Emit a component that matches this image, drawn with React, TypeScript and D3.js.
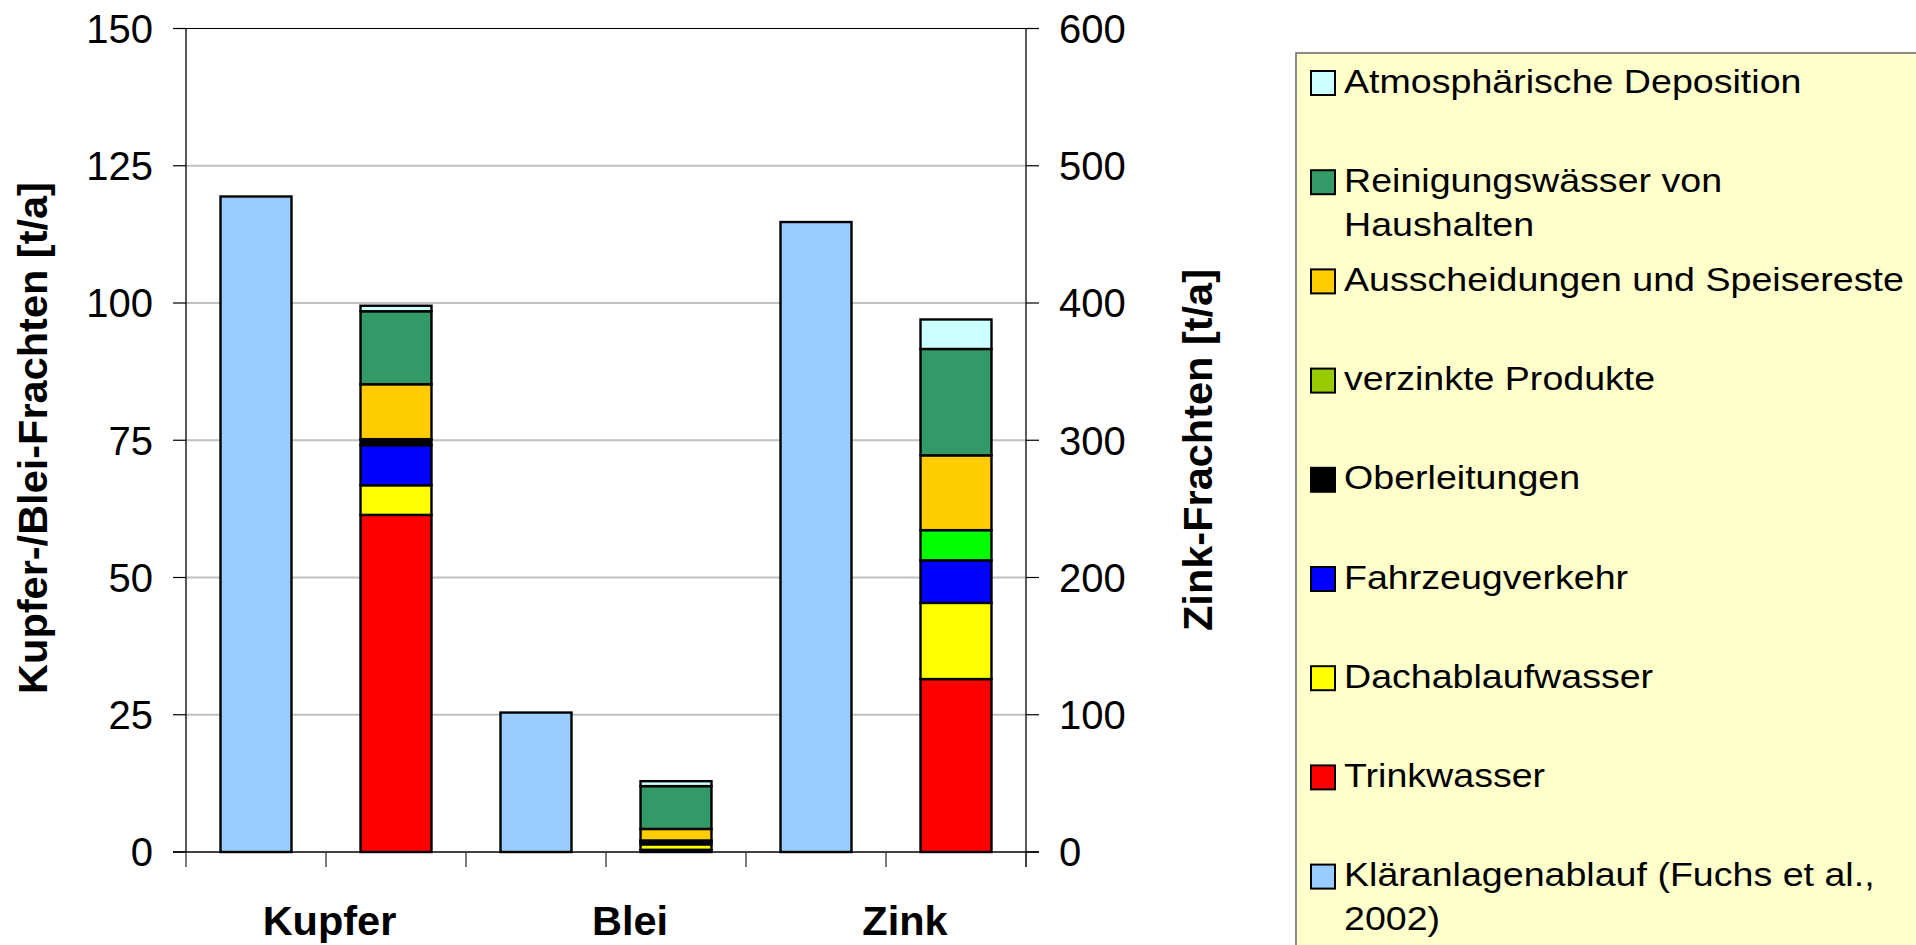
import React from 'react';
import * as d3 from 'd3';

// ---------- data ----------
const categories = ['Kupfer', 'Blei', 'Zink'];
const klaeranlage = [119.4, 25.4, 459];
const trinkwasser = [61.4, 0.4, 126];
const dachablaufwasser = [5.4, 1.0, 55.5];
const fahrzeugverkehr = [7.3, 0.5, 31];
const oberleitungen = [1.1, 0.2, 0];
const verzinkteProdukte = [0, 0, 22];
const ausscheidungen = [10.0, 2.1, 54.5];
const reinigungswaesser = [13.3, 7.8, 77.5];
const atmosphaerisch = [1.0, 0.9, 21.5];

const leftTicks = [0, 25, 50, 75, 100, 125, 150];
const rightTicks = [0, 100, 200, 300, 400, 500, 600];

const stackKeys = ['Trinkwasser', 'Dachablaufwasser', 'Fahrzeugverkehr', 'Oberleitungen', 'verzinkte Produkte', 'Ausscheidungen und Speisereste', 'Reinigungswässer von Haushalten', 'Atmosphärische Deposition'];
const stackValues = [trinkwasser, dachablaufwasser, fahrzeugverkehr, oberleitungen, verzinkteProdukte, ausscheidungen, reinigungswaesser, atmosphaerisch];
const stackColors = ['#FF0000', '#FFFF00', '#0000FF', '#000000', '#00FF00', '#FFCC00', '#339966', '#CCFFFF'];
const klaerColor = '#99CCFF';

const legendItems = [
  { lines: ['Atmosphärische Deposition'], color: '#CCFFFF' },
  { lines: ['Reinigungswässer von', 'Haushalten'], color: '#339966' },
  { lines: ['Ausscheidungen und Speisereste'], color: '#FFCC00' },
  { lines: ['verzinkte Produkte'], color: '#99CC00' },
  { lines: ['Oberleitungen'], color: '#000000' },
  { lines: ['Fahrzeugverkehr'], color: '#0000FF' },
  { lines: ['Dachablaufwasser'], color: '#FFFF00' },
  { lines: ['Trinkwasser'], color: '#FF0000' },
  { lines: ['Kläranlagenablauf (Fuchs et al.,', '2002)'], color: '#99CCFF' },
];

// ---------- layout ----------
const W = 1916, H = 945;
const left = 186, right = 1026, top = 28.5, bottom = 852;
const font = "'Liberation Sans', Arial, Helvetica, sans-serif";
const labelCenters = [329.5, 630, 905];

export default function App() {
  const slots = categories.flatMap(c => [c + '-K', c + '-S']);
  const x = d3.scaleBand<string>().domain(slots).range([left, right]).paddingInner(0.493).paddingOuter(0.2465);
  const yL = d3.scaleLinear().domain([0, 150]).range([bottom, top]);
  const yR = d3.scaleLinear().domain([0, 600]).range([bottom, top]);
  const yFor = (i: number) => (i === 2 ? yR : yL);

  const rows = categories.map((c, i) => {
    const r: any = { cat: c };
    stackKeys.forEach((k, j) => { r[k] = stackValues[j][i]; });
    return r;
  });
  const stacked = d3.stack<any>().keys(stackKeys)(rows);

  const bw = x.bandwidth();
  const sw = 2.4;

  return (
    <svg width={W} height={H} style={{ position: 'absolute', left: 0, top: 0, background: '#fff' }} fontFamily={font}>
      <rect x={0} y={0} width={W} height={H} fill="#fff" />
      {/* gridlines */}
      {leftTicks.filter(t => t !== 0 && t !== 150).map(t => (
        <line key={'g' + t} x1={left} x2={right} y1={yL(t)} y2={yL(t)} stroke="#c0c0c0" strokeWidth={2} />
      ))}
      {/* top line */}
      <line x1={left - 13} x2={right + 13} y1={yL(150)} y2={yL(150)} stroke="#000" strokeWidth={1.2} />
      {/* Kläranlage bars */}
      {categories.map((c, i) => {
        const y = yFor(i);
        return (
          <rect key={'k' + c} x={x(c + '-K')} y={y(klaeranlage[i])} width={bw} height={y(0) - y(klaeranlage[i])}
            fill={klaerColor} stroke="#000" strokeWidth={sw} />
        );
      })}
      {/* stacked bars */}
      {stacked.map((s, j) => (
        <g key={'s' + j}>
          {s.map((d, i) => {
            const v = d[1] - d[0];
            if (v <= 0) return null;
            const y = yFor(i);
            return (
              <rect key={i} x={x(categories[i] + '-S')} y={y(d[1])} width={bw} height={y(d[0]) - y(d[1])}
                fill={stackColors[j]} stroke="#000" strokeWidth={sw} />
            );
          })}
        </g>
      ))}
      {/* axes */}
      <line x1={left} x2={left} y1={top} y2={bottom} stroke="#000" strokeWidth={1.3} />
      <line x1={right} x2={right} y1={top} y2={bottom + 15} stroke="#333" strokeWidth={1.6} />
      <line x1={left - 13} x2={right + 13} y1={bottom} y2={bottom} stroke="#000" strokeWidth={1.3} />
      {leftTicks.map(t => (
        <g key={'lt' + t}>
          <line x1={left - 13} x2={left} y1={yL(t)} y2={yL(t)} stroke="#000" strokeWidth={1.2} />
          <text x={153} y={yL(t)} dy="0.36em" textAnchor="end" fontSize={40} fill="#000">{t}</text>
        </g>
      ))}
      {rightTicks.map(t => (
        <g key={'rt' + t}>
          <line x1={right} x2={right + 13} y1={yR(t)} y2={yR(t)} stroke="#000" strokeWidth={1.2} />
          <text x={1059} y={yR(t)} dy="0.36em" textAnchor="start" fontSize={40} fill="#000">{t}</text>
        </g>
      ))}
      {/* x ticks at slot boundaries */}
      {d3.range(slots.length + 1).map(k => {
        const xx = left + k * x.step();
        return <line key={'xt' + k} x1={xx} x2={xx} y1={bottom} y2={bottom + 15} stroke="#333" strokeWidth={1.3} />;
      })}
      {/* category labels */}
      {categories.map((c, i) => (
        <text key={'cl' + c} x={labelCenters[i]} y={935} textAnchor="middle" fontSize={41.5} fontWeight="bold" fill="#000">{c}</text>
      ))}
      {/* axis titles */}
      <text transform={`translate(47,438) rotate(-90)`} textAnchor="middle" fontSize={41.5} fontWeight="bold" fill="#000">Kupfer-/Blei-Frachten [t/a]</text>
      <text transform={`translate(1212,450) rotate(-90)`} textAnchor="middle" fontSize={41.5} fontWeight="bold" fill="#000">Zink-Frachten [t/a]</text>
      {/* legend */}
      <rect x={1296} y={53} width={700} height={1000} fill="#FFFFCC" stroke="#707070" strokeWidth={1.6} />
      {legendItems.map((it, i) => {
        const cy = 83 + i * 99.2;
        return (
          <g key={'lg' + i}>
            <rect x={1311} y={cy - 12} width={24} height={24} fill={it.color} stroke="#000" strokeWidth={2} />
            {it.lines.map((ln, li) => (
              <text key={li} transform={`translate(1344,${cy + 9.5 + li * 44}) scale(1.146,1)`} fontSize={32.8} fill="#000">{ln}</text>
            ))}
          </g>
        );
      })}
    </svg>
  );
}
